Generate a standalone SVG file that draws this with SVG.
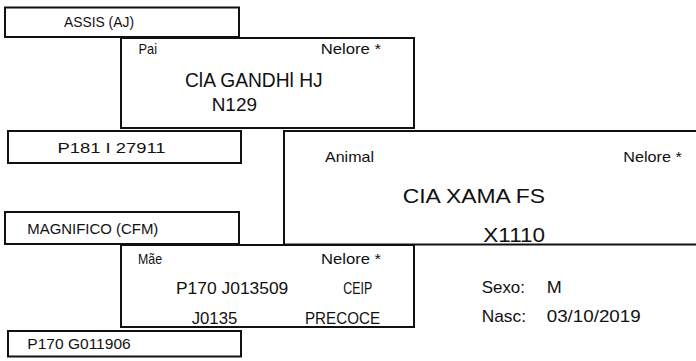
<svg xmlns="http://www.w3.org/2000/svg" width="696" height="361" viewBox="0 0 696 361">
<style>
rect{fill:#fff;stroke:#111;stroke-width:2}
text{font-family:"Liberation Sans",Arial,sans-serif;fill:#111}
.s{font-size:14.5px}
.m{font-size:17px}
.b{font-size:21px}
</style>
<rect x="0" y="0" width="696" height="361" style="stroke:none"/>
<g id="assis"><rect x="5" y="7.5" width="234" height="29.5"/><text class="s" x="64" y="27" textLength="70" lengthAdjust="spacingAndGlyphs">ASSIS (AJ)</text></g>
<g id="pai"><rect x="121" y="38" width="293" height="90"/>
<text class="s" x="138.5" y="54" textLength="18.5" lengthAdjust="spacingAndGlyphs">Pai</text>
<text class="s" x="320.7" y="54" textLength="60.3" lengthAdjust="spacingAndGlyphs">Nelore *</text>
<text class="b" x="185" y="87.3" textLength="137.7" lengthAdjust="spacingAndGlyphs">ClA GANDHl HJ</text>
<text x="211.7" y="110.5" font-size="18.5" textLength="45.3" lengthAdjust="spacingAndGlyphs">N129</text></g>
<g id="p181"><rect x="8" y="131" width="233" height="32"/><text class="s" x="57.5" y="152.5" textLength="108" lengthAdjust="spacingAndGlyphs">P181 I 27911</text></g>
<g id="animal"><rect x="284" y="131" width="420" height="113.5"/>
<text class="s" x="325" y="161.7" textLength="49" lengthAdjust="spacingAndGlyphs">Animal</text>
<text class="s" x="623.3" y="161.7" textLength="58.4" lengthAdjust="spacingAndGlyphs">Nelore *</text>
<text class="b" x="402.7" y="202.7" textLength="142.3" lengthAdjust="spacingAndGlyphs">CIA XAMA FS</text>
<text x="483.3" y="241.5" font-size="20" textLength="61.7" lengthAdjust="spacingAndGlyphs">X1110</text></g>
<g id="magnifico"><rect x="5" y="212" width="234" height="32"/><text class="s" x="27.3" y="234" textLength="131" lengthAdjust="spacingAndGlyphs">MAGNIFICO (CFM)</text></g>
<g id="mae"><rect x="121" y="245" width="293" height="82"/>
<text class="s" x="138" y="264" textLength="24" lengthAdjust="spacingAndGlyphs">Mãe</text>
<text class="s" x="321" y="264" textLength="60" lengthAdjust="spacingAndGlyphs">Nelore *</text>
<text class="m" x="176" y="294" textLength="112.3" lengthAdjust="spacingAndGlyphs">P170 J013509</text>
<text class="m" x="343.3" y="294" textLength="29" lengthAdjust="spacingAndGlyphs">CEIP</text>
<text class="m" x="191.7" y="324" textLength="45.6" lengthAdjust="spacingAndGlyphs">J0135</text>
<text class="m" x="305" y="324" textLength="75" lengthAdjust="spacingAndGlyphs">PRECOCE</text></g>
<g id="p170g"><rect x="8" y="331" width="233" height="25.5"/><text class="s" x="27.3" y="348.7" textLength="103.4" lengthAdjust="spacingAndGlyphs">P170 G011906</text></g>
<g id="info">
<text class="m" x="481.7" y="293.3" textLength="43.3" lengthAdjust="spacingAndGlyphs">Sexo:</text>
<text class="m" x="546.7" y="293.3" textLength="15" lengthAdjust="spacingAndGlyphs">M</text>
<text class="m" x="481.7" y="321.7" textLength="44.3" lengthAdjust="spacingAndGlyphs">Nasc:</text>
<text class="m" x="546.7" y="321.7" textLength="94" lengthAdjust="spacingAndGlyphs">03/10/2019</text></g>
</svg>
